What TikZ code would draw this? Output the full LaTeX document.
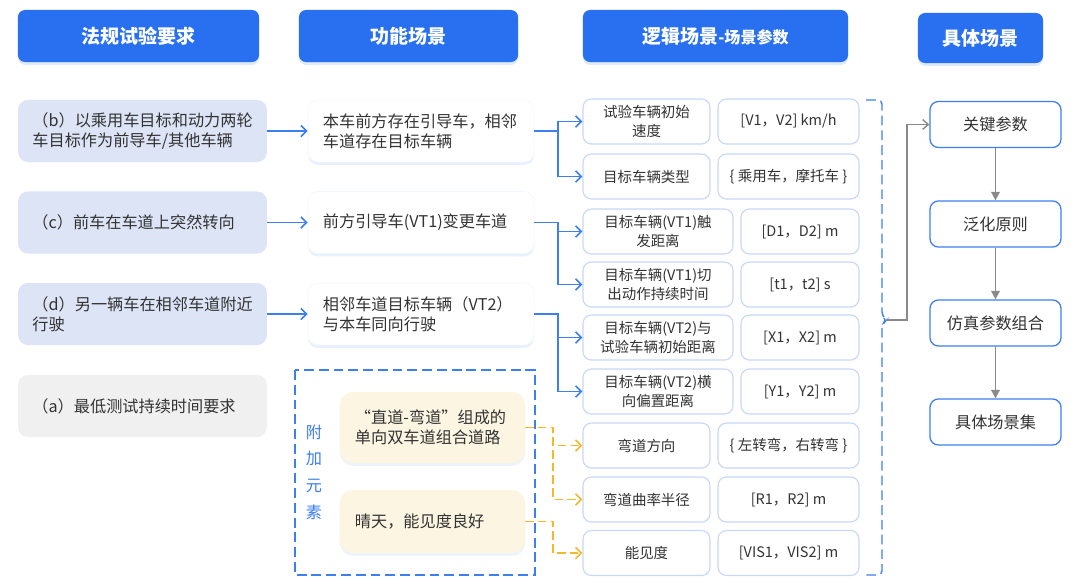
\documentclass[tikz,border=0pt]{standalone}
\usepackage{fontspec}
\setmainfont{Noto Sans CJK SC}
\usetikzlibrary{arrows.meta,shadows}
\definecolor{hdrBlue}{HTML}{2870F0}
\definecolor{reqFill}{HTML}{DCE4F6}
\definecolor{reqGrey}{HTML}{F0F0F0}
\definecolor{lineBlue}{HTML}{3D7EF2}
\definecolor{boxLine}{HTML}{C8D8F7}
\definecolor{extraFill}{HTML}{FBF5E1}
\definecolor{extraLine}{HTML}{F5B82A}
\definecolor{flowGrey}{HTML}{8A8A8A}
\definecolor{textDark}{HTML}{333333}

\begin{document}
\begin{tikzpicture}[x=0.025cm,y=-0.025cm,
    font=\fontsize{11.5}{14.5}\selectfont,text=textDark,
    header/.style={fill=hdrBlue,rounded corners=5pt,text=white,
                   font=\fontsize{13.5}{16}\selectfont\bfseries,
                   minimum height=1.3cm,
                   drop shadow={shadow xshift=0pt,shadow yshift=-2pt,opacity=.15,fill=hdrBlue}},
    req/.style={fill=reqFill,rounded corners=7pt,text width=5.5cm,
                inner xsep=0.36cm,minimum height=1.55cm,align=left},
    func/.style={fill=white,draw=hdrBlue!6,rounded corners=7pt,text width=4.9cm,
                 inner xsep=0.375cm,minimum height=1.55cm,align=left,
                 drop shadow={shadow xshift=0pt,shadow yshift=-2pt,opacity=.10,fill=hdrBlue}},
    param/.style={draw=boxLine,fill=white,rounded corners=6pt,line width=0.8pt,
                  minimum height=1.125cm,inner sep=1pt,align=center,
                  font=\fontsize{10.3}{13.5}\selectfont},
    extra/.style={fill=extraFill,rounded corners=9pt,text width=3.875cm,
                  inner xsep=0.375cm,minimum width=4.625cm,align=left,
                  drop shadow={shadow xshift=0pt,shadow yshift=-2pt,opacity=.08,fill=hdrBlue}},
    final/.style={draw=lineBlue,fill=white,rounded corners=6pt,line width=0.9pt,
                  minimum width=3.275cm,minimum height=1.15cm},
    link/.style={draw=lineBlue,line width=1.2pt,-{Straight Barb[length=4pt,width=8pt]}},
    extraLink/.style={draw=extraLine,line width=1.2pt,dash pattern=on 6pt off 3pt,
                      -{Straight Barb[length=4pt,width=8pt]}},
    flow/.style={draw=flowGrey,line width=1.2pt,-{Triangle[length=6pt,width=6pt]}},
    dashBlue/.style={draw=lineBlue,line width=1pt,dash pattern=on 7pt off 3.5pt}]
  \useasboundingbox (0,0) rectangle (1080,581);
  \fill[white] (0,0) rectangle (1080,581);

  % column headers
  \node[header,minimum width=6.025cm] (hReq) at (138.5,36) {法规试验要求};
  \node[header,minimum width=5.475cm] (hFunc) at (408.5,36) {功能场景};
  \node[header,minimum width=6.625cm] (hLogic) at (715.5,36)
       {逻辑场景{\fontsize{11.4}{14}\selectfont -场景参数}};
  \node[header,minimum width=3.125cm,minimum height=1.25cm] (hFinal) at (980.5,38) {具体场景};

  % regulation requirements
  \node[req] (rB) at (142.5,131) {（b）以乘用车目标和动力两轮\\车目标作为前导车/其他车辆};
  \node[req] (rC) at (142.5,222.5) {（c）前车在车道上突然转向};
  \node[req] (rD) at (142.5,314) {（d）另一辆车在相邻车道附近\\行驶};
  \node[req,fill=reqGrey] (rA) at (142.5,406) {（a）最低测试持续时间要求};

  % functional scenarios
  \node[func] (fLead) at (421,131) {本车前方存在引导车，相邻\\车道存在目标车辆};
  \node[func] (fCut) at (421,222.5) {前方引导车(VT1)变更车道};
  \node[func] (fSide) at (421,314) {相邻车道目标车辆（VT2）\\与本车同向行驶};

  % additional elements
  \draw[dashBlue] (295,370) rectangle (535,575);
  \node[text=lineBlue,align=center,font=\fontsize{11.5}{19}\selectfont] (eLbl) at (314,472)
       {附\\加\\元\\素};
  \node[extra,minimum height=1.775cm] (eRoad) at (432.5,427.5)
       {“直道-弯道”组成的\\单向双车道组合道路};
  \node[extra,minimum height=1.575cm] (eVis) at (432.5,521.5) {晴天，能见度良好};

  % logical scenario parameters
  \node[param,minimum width=3.175cm] (pSpeed) at (646.5,121.5) {试验车辆初始\\速度};
  \node[param,minimum width=3.525cm] (vSpeed) at (788.5,121.5) {[V1，V2] km/h};
  \node[param,minimum width=3.175cm] (pType) at (646.5,176.5) {目标车辆类型};
  \node[param,minimum width=3.525cm] (vType) at (788.5,176.5) {\{ 乘用车，摩托车 \}};
  \node[param,minimum width=3.75cm] (pTrig) at (658,231.5) {目标车辆(VT1)触\\发距离};
  \node[param,minimum width=2.95cm] (vTrig) at (800,231.5) {[D1，D2] m};
  \node[param,minimum width=3.75cm] (pCut) at (658,284.5) {目标车辆(VT1)切\\出动作持续时间};
  \node[param,minimum width=2.95cm] (vCut) at (800,284.5) {[t1，t2] s};
  \node[param,minimum width=3.75cm] (pGap) at (658,337.5) {目标车辆(VT2)与\\试验车辆初始距离};
  \node[param,minimum width=2.95cm] (vGap) at (800,337.5) {[X1，X2] m};
  \node[param,minimum width=3.75cm] (pOff) at (658,391.5) {目标车辆(VT2)横\\向偏置距离};
  \node[param,minimum width=2.95cm] (vOff) at (800,391.5) {[Y1，Y2] m};
  \node[param,minimum width=3.175cm] (pDir) at (646.5,445.5) {弯道方向};
  \node[param,minimum width=3.525cm] (vDir) at (788.5,445.5) {\{ 左转弯，右转弯 \}};
  \node[param,minimum width=3.175cm] (pRad) at (646.5,499.5) {弯道曲率半径};
  \node[param,minimum width=3.525cm] (vRad) at (788.5,499.5) {[R1，R2] m};
  \node[param,minimum width=3.175cm] (pVis) at (646.5,553) {能见度};
  \node[param,minimum width=3.525cm] (vVis) at (788.5,553) {[VIS1，VIS2] m};

  % concrete scenario flow
  \node[final] (kKey) at (995.5,124.5) {关键参数};
  \node[final] (kRule) at (995.5,224) {泛化原则};
  \node[final] (kSim) at (995.5,323) {仿真参数组合};
  \node[final] (kSet) at (995.5,422) {具体场景集};

  % connectors
  \foreach \a/\b in {rB/fLead,rC/fCut,rD/fSide}
    \draw[link] (\a.east) -- (\b.west);
  \foreach \f/\p in {fLead/pSpeed,fLead/pType,fCut/pTrig,fCut/pCut,fSide/pGap,fSide/pOff}
    \draw[link] (\f.east) -- ++(24,0) |- (\p.west);
  \foreach \e/\p in {eRoad/pDir,eRoad/pRad,eVis/pVis}
    \draw[extraLink] (\e.east) -- ++(28,0) |- (\p.west);

  % bracket round the parameters
  \coordinate (brk) at (887,320);
  \draw[dashBlue,rounded corners=3pt] (866,100) -- (882,100) -- (882,316) -- (brk)
        -- (882,324) -- (882,575) -- (866,575);
  \draw[draw=flowGrey,line width=1pt,-{Straight Barb[length=4pt,width=7pt]}]
        (brk) -- ++(20,0) |- (kKey.west);
  \foreach \a/\b in {kKey/kRule,kRule/kSim,kSim/kSet}
    \draw[flow] (\a) -- (\b);
\end{tikzpicture}
\end{document}
